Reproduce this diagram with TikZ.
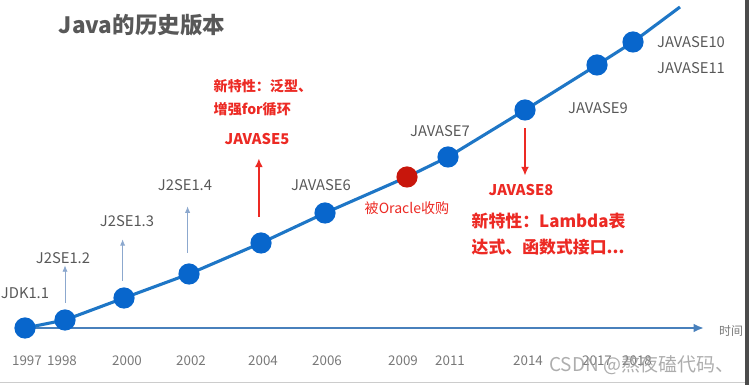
\documentclass[tikz,border=0pt]{standalone}
\usepackage{fontspec}
\setmainfont{Noto Sans CJK SC}
\usepackage{tikz}
\usetikzlibrary{arrows.meta}
\definecolor{dotblue}{RGB}{8,102,204}
\definecolor{lineblue}{RGB}{30,118,198}
\definecolor{axisblue}{RGB}{72,128,188}
\definecolor{hintblue}{RGB}{140,168,206}
\definecolor{noteRed}{RGB}{236,42,36}
\definecolor{dotred}{RGB}{200,22,12}
\definecolor{labelgray}{RGB}{88,88,88}
\definecolor{yeargray}{RGB}{120,120,120}

\tikzset{
  ver/.style={circle,fill=dotblue,inner sep=0pt,minimum size=0.53cm},
  vername/.style={text=labelgray,font=\fontsize{10.5}{12}\selectfont,inner sep=1pt},
  yearname/.style={text=yeargray,font=\fontsize{9.5}{11}\selectfont,inner sep=1pt},
  rednote/.style={text=noteRed,font=\fontsize{10.5}{12}\selectfont\bfseries,inner sep=1pt},
  hint/.style={-{Latex[length=1.6mm,width=1.3mm]},hintblue,line width=0.6pt},
  redarrow/.style={-{Latex[length=2.2mm,width=2mm]},noteRed,line width=1.4pt}
}

\begin{document}
\begin{tikzpicture}[x=0.025cm,y=-0.025cm]
    \useasboundingbox (0,0) rectangle (749,385);
    % ===== Frame =====
    \fill[gray!60!black] (745,0) rectangle (749,385);
    \draw[gray!40,line width=1pt] (0,382.5) -- (745,382.5);
    % ===== Title =====
    \node[text=labelgray,font=\fontsize{16}{18}\selectfont\bfseries] (title) at (142,25) {Java的历史版本};
    % ===== Time axis =====
    \coordinate (axstart) at (25,328);
    \coordinate (axend) at (704,328);
    \draw[-{Latex[length=2.6mm,width=2.2mm]},axisblue,line width=1.6pt] (axstart) -- (axend);
    \node[text=yeargray,font=\fontsize{8.5}{10}\selectfont] (time) at (731,331) {时间};
    % ===== Release points =====
    \coordinate (p97) at (25,328);
    \coordinate (p98) at (65,320);
    \coordinate (p00) at (124,298);
    \coordinate (p02) at (189,274);
    \coordinate (p04) at (261,243);
    \coordinate (p06) at (325,213);
    \coordinate (p09) at (407,177);
    \coordinate (p11) at (448,157);
    \coordinate (p14) at (525,110);
    \coordinate (p17) at (597,65);
    \coordinate (p18) at (633,42);
    \coordinate (pend) at (680,7);
    \draw[lineblue,line width=2.2pt] (p97) -- (p98) -- (p00) -- (p02) -- (p04) -- (p06) -- (p09)
      -- (p11) -- (p14) -- (p17) -- (p18) -- (pend);
    \foreach \p in {97,98,00,02,04,06,11,14,17,18}
      \node[ver] (v\p) at (p\p) {};
    \node[ver,fill=dotred] (v09) at (p09) {};
    % ===== Years =====
    \node[yearname] (y97) at (27,361) {1997};
    \node[yearname] (y98) at (62,361) {1998};
    \node[yearname] (y00) at (127,361) {2000};
    \node[yearname] (y02) at (191,361) {2002};
    \node[yearname] (y04) at (263,361) {2004};
    \node[yearname] (y06) at (327,361) {2006};
    \node[yearname] (y09) at (403,361) {2009};
    \node[yearname] (y11) at (450,361) {2011};
    \node[yearname] (y14) at (528,361) {2014};
    \node[yearname] (y17) at (597,361) {2017};
    \node[yearname] (y18) at (637,361) {2018};
    % ===== Version names =====
    \node[vername] (n97) at (25,293) {JDK1.1};
    \node[vername] (n98) at (63,258) {J2SE1.2};
    \node[vername] (n00) at (127,221) {J2SE1.3};
    \node[vername] (n02) at (185,185) {J2SE1.4};
    \node[vername] (n06) at (321,185) {JAVASE6};
    \node[vername] (n11) at (440,131) {JAVASE7};
    \node[vername] (n14) at (598,108) {JAVASE9};
    \node[vername] (n17) at (691,42) {JAVASE10};
    \node[vername] (n18) at (691,68) {JAVASE11};
    \node[text=noteRed,font=\fontsize{10}{12}\selectfont,inner sep=1pt] (oracle) at (407,208) {被Oracle收购};
    % ===== Small hint arrows =====
    \draw[hint] ([yshift=4.6pt]v98.north) -- (v98.north |- n98.south);
    \draw[hint] ([xshift=-1pt,yshift=4.6pt]v00.north) -- ([xshift=-1pt,yshift=-7.8pt]v00.north |- n00.south);
    \draw[hint] ([xshift=-1pt,yshift=7.4pt]v02.north) -- ([xshift=-1pt,yshift=-10pt]v02.north |- n02.south);
    % ===== JAVASE5 =====
    \node[rednote] (n04) at (257,139) {JAVASE5};
    \node[rednote,font=\fontsize{10}{16}\selectfont\bfseries,align=left,anchor=north west] (f04) at (212,78) {新特性：泛型、\\增强for循环};
    \draw[redarrow] ([xshift=-1.5pt,yshift=11pt]v04.north) -- ([xshift=-1.5pt,yshift=-8.5pt]v04.north |- n04.south);
    % ===== JAVASE8 =====
    \node[rednote] (n08) at (521,190) {JAVASE8};
    \node[rednote,font=\fontsize{12}{19}\selectfont\bfseries,align=left,anchor=north west] (f08) at (470,211) {新特性：Lambda表\\达式、函数式接口...};
    \draw[redarrow] ([yshift=-5.3pt]v14.south) -- ([yshift=5pt]v14.south |- n08.north);
    % ===== Watermark =====
    \node[text=gray!80,opacity=0.8,font=\fontsize{13.5}{15}\selectfont] (mark) at (642,365) {CSDN @熬夜磕代码、};
\end{tikzpicture}
\end{document}
